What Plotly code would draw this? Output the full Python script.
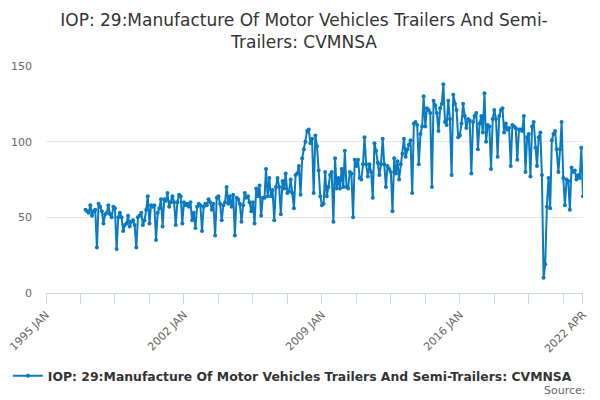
import plotly.graph_objects as go
import pandas as pd

# monthly values (1997 JAN .. 2022 APR)
v1997 = [55, 54, 53, 58, 51, 54, 55, 30, 59, 57, 54, 46]
v1998 = [52, 53, 58, 52, 50, 57, 56, 29, 50, 53, 50, 41]
v1999 = [45, 46, 51, 44, 47, 48, 45, 30, 50, 51, 53, 45]
v2000 = [48, 55, 64, 46, 58, 57, 58, 35, 53, 56, 62, 44]
v2001 = [62, 61, 66, 57, 60, 64, 60, 45, 60, 65, 64, 46]
v2002 = [60, 58, 59, 57, 60, 48, 53, 43, 57, 59, 58, 41]
v2003 = [57, 59, 58, 62, 60, 55, 59, 38, 63, 64, 59, 48]
v2004 = [58, 60, 70, 59, 64, 57, 65, 38, 63, 62, 59, 47]
v2005 = [58, 66, 63, 64, 60, 54, 60, 46, 69, 64, 71, 51]
v2006 = [63, 63, 82, 64, 76, 64, 68, 48, 70, 76, 70, 52]
v2007 = [74, 69, 79, 66, 67, 75, 66, 56, 78, 79, 84, 65]
v2008 = [89, 95, 100, 107, 108, 99, 102, 66, 104, 97, 81, 64]
v2009 = [58, 59, 80, 64, 70, 78, 80, 47, 89, 69, 76, 69]
v2010 = [82, 70, 94, 70, 69, 80, 79, 50, 88, 84, 88, 76]
v2011 = [75, 85, 103, 85, 77, 85, 80, 63, 99, 94, 86, 78]
v2012 = [85, 102, 85, 70, 84, 82, 80, 54, 89, 79, 87, 75]
v2013 = [85, 92, 102, 90, 95, 98, 101, 66, 112, 113, 111, 85]
v2014 = [105, 110, 130, 110, 122, 121, 119, 70, 127, 124, 119, 107]
v2015 = [122, 125, 138, 113, 111, 127, 115, 78, 131, 125, 121, 103]
v2016 = [104, 112, 125, 117, 109, 115, 114, 79, 113, 117, 119, 95]
v2017 = [112, 117, 106, 132, 100, 111, 110, 82, 115, 121, 115, 90]
v2018 = [117, 121, 122, 106, 112, 108, 109, 84, 111, 110, 109, 88]
v2019 = [108, 108, 107, 117, 80, 103, 105, 77, 110, 113, 96, 84]
v2020 = [103, 106, 78, 10, 19, 57, 76, 56, 101, 105, 107, 95]
v2021 = [80, 95, 113, 76, 58, 75, 74, 55, 83, 80, 81, 75]
v2022 = [78, 76, 96, 64]

values = (v1997 + v1998 + v1999 + v2000 + v2001 + v2002 + v2003 + v2004 + v2005
          + v2006 + v2007 + v2008 + v2009 + v2010 + v2011 + v2012 + v2013 + v2014
          + v2015 + v2016 + v2017 + v2018 + v2019 + v2020 + v2021 + v2022)
dates = pd.date_range('1997-01-01', periods=len(values), freq='MS')

tick_dates = ['1995-01-01', '1996-10-01', '1998-07-01', '2000-04-01', '2002-01-01',
              '2003-10-01', '2005-07-01', '2007-04-01', '2009-01-01', '2010-10-01',
              '2012-07-01', '2014-04-01', '2016-01-01', '2017-10-01', '2019-07-01',
              '2021-04-01', '2022-04-01']
tick_text = ['1995 JAN', '', '', '', '2002 JAN', '', '', '', '2009 JAN', '', '', '',
             '2016 JAN', '', '', '', '2022 APR']

series_name = 'IOP: 29:Manufacture Of Motor Vehicles Trailers And Semi-Trailers: CVMNSA'
title = 'IOP: 29:Manufacture Of Motor Vehicles Trailers And Semi-<br>Trailers: CVMNSA'

blue = '#0a7bc1'

fig = go.Figure()
fig.add_trace(go.Scatter(
    x=dates, y=values, mode='lines+markers', name='<b>' + series_name + '</b>',
    line=dict(color=blue, width=2), marker=dict(color=blue, size=4),
))

# the page body adds ~8px around the figure, so the figure is a bit smaller
fig.update_layout(
    width=592, height=392,
    margin=dict(l=38, r=17, t=58, b=107, autoexpand=False),
    paper_bgcolor='white', plot_bgcolor='white',
    font=dict(family='DejaVu Sans', color='#333333'),
    title=dict(text=title, x=0.5, xanchor='center', yref='container', y=0.954,
               yanchor='middle', font=dict(size=17, color='#333333')),
    showlegend=True,
    legend=dict(orientation='h', x=-0.071, xanchor='left', y=-0.3, yanchor='top',
                font=dict(size=12.4, color='#333333')),
)
fig.update_xaxes(
    type='date', range=['1994-12-31 12:00', '2022-04-01 12:00'], automargin=False,
    tickmode='array', tickvals=tick_dates, ticktext=tick_text, tickangle=-45,
    ticklabeloverflow='allow',
    ticks='outside', ticklen=10, tickcolor='#ccd6eb',
    showline=True, linecolor='#ccd6eb', linewidth=1,
    showgrid=False, zeroline=False,
    tickfont=dict(size=11, color='#666666'),
)
fig.update_yaxes(
    range=[0, 150], tickvals=[0, 50, 100, 150], automargin=False,
    showgrid=True, gridcolor='#e6e6e6', zeroline=False, showline=False,
    tickfont=dict(size=11, color='#666666'), ticks='', ticklabelstandoff=13,
)
fig.add_annotation(text='Source:', xref='paper', yref='paper', x=1.009, y=-0.43,
                   xanchor='right', yanchor='middle', showarrow=False,
                   font=dict(size=11, color='#666666'))

fig.write_html('out.html')
